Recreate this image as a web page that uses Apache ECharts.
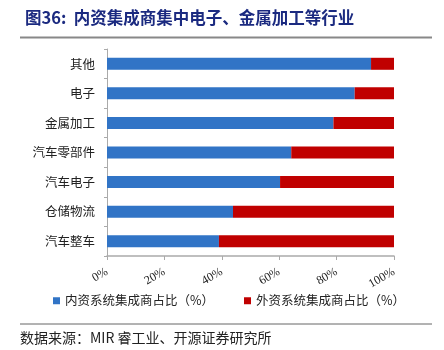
<!DOCTYPE html>
<html>
<head>
<meta charset="utf-8">
<script src="https://cdn.jsdelivr.net/npm/echarts@6/dist/echarts.min.js"></script>
<style>
  html, body { margin: 0; padding: 0; background: #fff; }
  #chart { width: 444px; height: 350px; }
</style>
</head>
<body>
<div id="chart"></div>
<script>
// 行业（从下往上）
const categories = ['汽车整车', '仓储物流', '汽车电子', '汽车零部件', '金属加工', '电子', '其他']
// 内资系统集成商占比（%）
const domesticShare = [39.0, 43.9, 60.3, 64.2, 78.9, 86.3, 92.0]
// 外资系统集成商占比（%）
const foreignShare = domesticShare.map(v => +(100 - v).toFixed(1))
const xTicks = [0, 20, 40, 60, 80, 100]

const cjk = '"Noto Sans CJK SC", sans-serif'
const chart = echarts.init(document.getElementById('chart'))

chart.setOption({
  animation: false,
  title: {
    text: '图36:  内资集成商集中电子、金属加工等行业',
    left: 20,
    top: 4,
    textStyle: { fontFamily: cjk, fontSize: 16.5, fontWeight: 'bold', color: '#1b2a80' }
  },
  legend: {
    bottom: 38,
    left: 48,
    itemWidth: 7,
    itemHeight: 7,
    itemGap: 30,
    icon: 'rect',
    textStyle: { fontFamily: cjk, fontSize: 12.5, color: '#222' },
    data: ['内资系统集成商占比（%）', '外资系统集成商占比（%）']
  },
  grid: { left: 107, right: 50, top: 49, bottom: 94 },
  xAxis: {
    type: 'value',
    min: 0,
    max: 100,
    interval: 20,
    splitLine: { show: false },
    axisLine: { show: true, lineStyle: { color: '#aaa', width: 1.5 } },
    axisTick: { show: true, length: 4, lineStyle: { color: '#aaa' } },
    axisLabel: {
      rotate: 30,
      margin: 15,
      fontFamily: '"Liberation Serif", serif',
      fontSize: 12,
      color: '#222',
      formatter: v => xTicks.includes(v) ? v + '%' : ''
    }
  },
  yAxis: {
    type: 'category',
    data: categories,
    axisLine: { show: true, lineStyle: { color: '#aaa' } },
    axisTick: { show: true, length: 3, lineStyle: { color: '#aaa' } },
    axisLabel: { fontFamily: cjk, fontSize: 12.5, color: '#222', margin: 12 }
  },
  series: [
    {
      name: '内资系统集成商占比（%）',
      type: 'bar',
      stack: 'total',
      barWidth: 12,
      itemStyle: { color: '#3174c6' },
      data: domesticShare
    },
    {
      name: '外资系统集成商占比（%）',
      type: 'bar',
      stack: 'total',
      barWidth: 12,
      itemStyle: { color: '#c00000' },
      data: foreignShare
    }
  ],
  graphic: [
    {
      type: 'line',
      shape: { x1: 20, y1: 37.5, x2: 432, y2: 37.5 },
      style: { stroke: '#888', lineWidth: 2 }
    },
    {
      type: 'line',
      shape: { x1: 20, y1: 324, x2: 432, y2: 324 },
      style: { stroke: '#666', lineWidth: 1 }
    },
    {
      type: 'text',
      left: 20,
      top: 331,
      style: { text: '数据来源：MIR 睿工业、开源证券研究所', font: '14px ' + cjk, fill: '#222' }
    }
  ]
})
</script>
</body>
</html>
